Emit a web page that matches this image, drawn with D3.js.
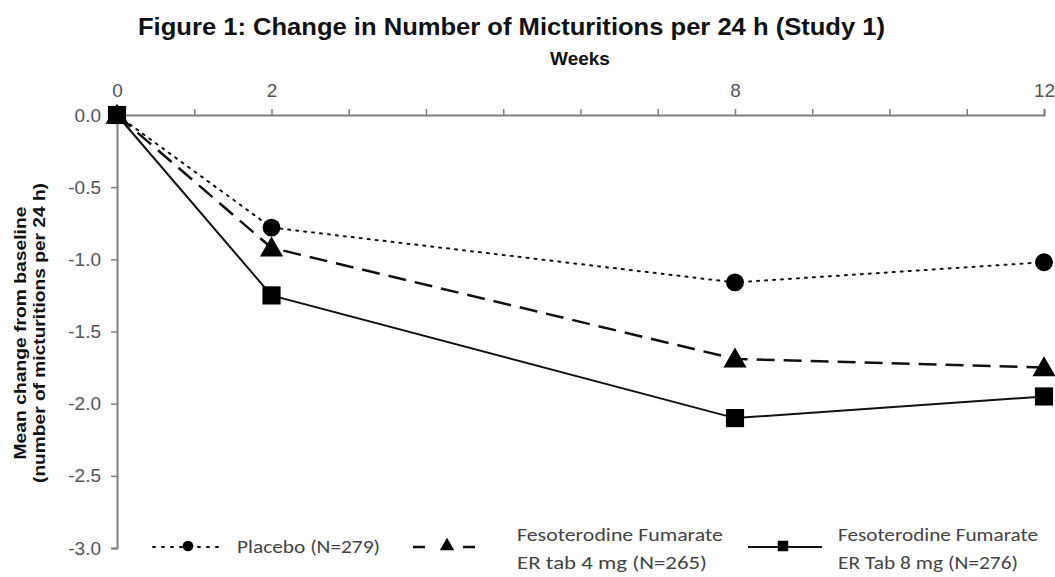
<!DOCTYPE html>
<html>
<head>
<meta charset="utf-8">
<script src="https://cdn.jsdelivr.net/npm/d3@7"></script>
<style>
  body { margin: 0; background: #fff; }
  svg { display: block; }
</style>
</head>
<body>
<div id="chart"></div>
<script>
// data
var weeks = [0, 2, 8, 12]
var placebo = [0, -0.78, -1.16, -1.02]
var tab4mg = [0, -0.92, -1.69, -1.75]
var tab8mg = [0, -1.25, -2.10, -1.95]
var weekTicks = [0, 1, 2, 3, 4, 5, 6, 7, 8, 9, 10, 11, 12]
var weekLabels = [0, 2, 8, 12]
var yTicks = [0, -0.5, -1.0, -1.5, -2.0, -2.5, -3.0]
var legendNames = [["Placebo (N=279)"],
                   ["Fesoterodine Fumarate", "ER tab 4 mg (N=265)"],
                   ["Fesoterodine Fumarate", "ER Tab 8 mg (N=276)"]]

var width = 1055, height = 577
var svg = d3.select("#chart").append("svg")
            .attr("width", width)
            .attr("height", height)

var x = d3.scaleLinear().domain([0, 12]).range([117, 1044])
var y = d3.scaleLinear().domain([0, -3]).range([115, 548])

var narrow = "'Liberation Sans Narrow', 'Liberation Sans', Arial, sans-serif"

// title
svg.append("text")
   .attr("x", 138).attr("y", 35)
   .attr("font-family", narrow)
   .attr("font-weight", "bold")
   .attr("font-size", 24)
   .attr("fill", "#111")
   .attr("textLength", 747)
   .attr("lengthAdjust", "spacingAndGlyphs")
   .text("Figure 1: Change in Number of Micturitions per 24 h (Study 1)")

svg.append("text")
   .attr("x", 580).attr("y", 65)
   .attr("text-anchor", "middle")
   .attr("font-family", narrow)
   .attr("font-weight", "bold")
   .attr("font-size", 19)
   .attr("fill", "#111")
   .text("Weeks")

// top x axis
var xAxis = svg.append("g")
               .attr("transform", "translate(0," + y(0) + ")")
               .call(d3.axisTop(x)
                  .tickValues(weekTicks)
                  .tickSize(6)
                  .tickFormat(function(d) { return weekLabels.indexOf(d) >= 0 ? d : "" }))
xAxis.select(".domain").attr("stroke", "#7f7f7f").attr("stroke-width", 2)
xAxis.selectAll(".tick line").attr("stroke", "#7f7f7f").attr("stroke-width", 1.5)
xAxis.selectAll(".tick text")
     .attr("y", -18)
     .attr("font-family", narrow)
     .attr("font-size", 19)
     .attr("fill", "#555")

// left y axis
var yAxis = svg.append("g")
               .attr("transform", "translate(" + x(0) + ",0)")
               .call(d3.axisLeft(y)
                  .tickValues(yTicks)
                  .tickSize(6)
                  .tickFormat(d3.format(".1f")))
yAxis.select(".domain").attr("stroke", "#7f7f7f").attr("stroke-width", 2)
yAxis.selectAll(".tick line").attr("stroke", "#7f7f7f").attr("stroke-width", 1.5)
yAxis.selectAll(".tick text")
     .attr("x", -16)
     .attr("font-family", narrow)
     .attr("font-size", 19)
     .attr("fill", "#555")
     .text(function(d) { return d3.format(".1f")(d).replace("\u2212", "-") })

// y axis title
var ytitle = svg.append("text")
                .attr("transform", "translate(26,333) rotate(-90)")
                .attr("text-anchor", "middle")
                .attr("font-family", narrow)
                .attr("font-weight", "bold")
                .attr("font-size", 16)
                .attr("fill", "#111")
ytitle.append("tspan").attr("x", 0).attr("y", 0)
      .attr("textLength", 253).attr("lengthAdjust", "spacingAndGlyphs")
      .text("Mean change from baseline")
ytitle.append("tspan").attr("x", 0).attr("y", 19)
      .attr("textLength", 300).attr("lengthAdjust", "spacingAndGlyphs")
      .text("(number of micturitions per 24 h)")

// series
var series = [
  {name: "placebo", values: placebo, dash: "2,6", width: 2, marker: d3.symbolCircle, size: 250},
  {name: "4mg", values: tab4mg, dash: "18,9", width: 2.5, marker: d3.symbolTriangle, size: 230},
  {name: "8mg", values: tab8mg, dash: null, width: 2, marker: d3.symbolSquare, size: 330}
]

var line = d3.line()
             .x(function(d) { return x(d[0]) })
             .y(function(d) { return y(d[1]) })

series.forEach(function(s) {
  var pts = weeks.map(function(w, i) { return [w, s.values[i]] })
  svg.append("path")
     .attr("d", line(pts))
     .attr("fill", "none")
     .attr("stroke", "#111")
     .attr("stroke-width", s.width)
     .attr("stroke-linecap", s.name == "placebo" ? "round" : "butt")
     .attr("stroke-dasharray", s.dash)
})

// markers after lines, squares last so week 0 shows a square
series.forEach(function(s) {
  var pts = weeks.map(function(w, i) { return [w, s.values[i]] })
  svg.selectAll(".m-" + s.name)
     .data(pts)
     .enter().append("path")
     .attr("class", "m-" + s.name)
     .attr("transform", function(d) {
        var dy = s.marker == d3.symbolTriangle ? 2 : 0
        return "translate(" + x(d[0]) + "," + (y(d[1]) + dy) + ")"
     })
     .attr("d", d3.symbol().type(s.marker).size(s.size))
     .attr("fill", "#000")
})

// legend
var legendFont = "Carlito, Lato, 'Open Sans', sans-serif"
var legendPos = [
  {x1: 153, x2: 218, mx: 188, dash: "2,7", tx: 237, w: [143], msize: 90},
  {x1: 413, x2: 475, mx: 447, dash: "12,38", tx: 517, w: [206, 190], msize: 90},
  {x1: 748, x2: 822, mx: 783, dash: null, tx: 838, w: [200, 180], msize: 110}
]
var ly = 547
legendPos.forEach(function(l, i) {
  var s = series[i]
  svg.append("line")
     .attr("x1", l.x1).attr("x2", l.x2)
     .attr("y1", ly).attr("y2", ly)
     .attr("stroke", "#111")
     .attr("stroke-width", s.width)
     .attr("stroke-linecap", i == 0 ? "round" : "butt")
     .attr("stroke-dasharray", l.dash)
  svg.append("path")
     .attr("transform", "translate(" + l.mx + "," + (ly - 1) + ")")
     .attr("d", d3.symbol().type(s.marker).size(l.msize))
     .attr("fill", "#000")
  var t = svg.append("text")
             .attr("font-family", legendFont)
             .attr("font-size", 19)
             .attr("fill", "#444")
  var names = legendNames[i]
  var ys = names.length == 1 ? [ly + 6] : [ly - 6, ly + 22]
  names.forEach(function(n, j) {
    t.append("tspan")
     .attr("x", l.tx).attr("y", ys[j])
     .attr("textLength", l.w[j]).attr("lengthAdjust", "spacingAndGlyphs")
     .text(n)
  })
})
</script>
</body>
</html>
